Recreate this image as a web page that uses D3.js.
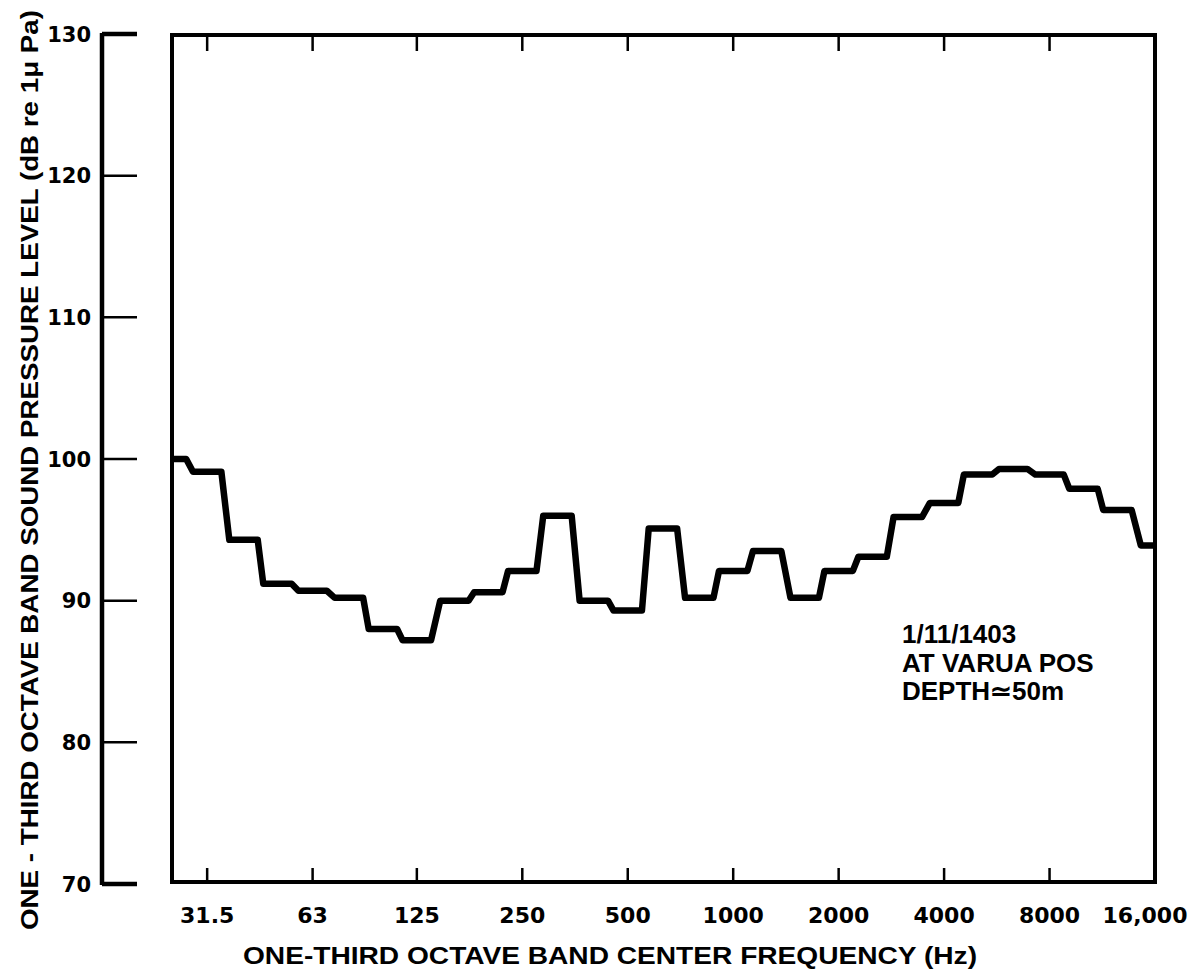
<!DOCTYPE html>
<html>
<head>
<meta charset="utf-8">
<script src="https://cdn.jsdelivr.net/npm/d3@7"></script>
<style>
  html, body { margin: 0; padding: 0; background: #fff; }
  svg { display: block; }
</style>
</head>
<body>
<svg id="chart" width="1195" height="975"></svg>
<script>
// One-third octave band centre frequencies (Hz)
const bands = [25, 31.5, 40, 50, 63, 80, 100, 125, 160, 200, 250, 315, 400, 500, 630, 800,
               1000, 1250, 1600, 2000, 2500, 3150, 4000, 5000, 6300, 8000, 10000, 12500, 16000];
// Band sound pressure level (dB re 1 µPa)
const levels = [100.0, 99.1, 94.3, 91.2, 90.7, 90.2, 88.0, 87.2, 90.0, 90.6, 92.1, 96.0, 90.0, 89.3, 95.1, 90.2,
                92.1, 93.5, 90.2, 92.1, 93.1, 95.9, 96.9, 98.9, 99.3, 98.9, 97.9, 96.4, 93.9];
// Axis ticks
const xTickFreqs = [31.5, 63, 125, 250, 500, 1000, 2000, 4000, 8000, 16000];
const xTickLabels = ["31.5", "63", "125", "250", "500", "1000", "2000", "4000", "8000", "16,000"];
const yTicks = [70, 80, 90, 100, 110, 120, 130];
const noteLines = ["1/11/1403", "AT VARUA POS", "DEPTH\u224350m"];

const svg = d3.select("#chart");
const x = d3.scaleLog().domain([25, 16000]).range([172, 1155]);
const y = d3.scaleLinear().domain([70, 130]).range([884, 34]);

const boxTop = y(130) + 1, boxBottom = y(70) - 2;
const axisX = 102;

// separate left value axis
svg.append("line").attr("x1", axisX).attr("x2", axisX)
  .attr("y1", y(130) - 1).attr("y2", y(70) + 1)
  .attr("stroke", "#000").attr("stroke-width", 4.5);
yTicks.forEach(v => {
  const end = (v === 70 || v === 130);
  svg.append("line").attr("x1", axisX).attr("x2", 137)
    .attr("y1", y(v)).attr("y2", y(v))
    .attr("stroke", "#000").attr("stroke-width", end ? 4.5 : 2.5);
  svg.append("text").attr("x", 91).attr("y", y(v)).attr("dy", "0.36em")
    .attr("text-anchor", "end")
    .attr("font-family", "DejaVu Sans").attr("font-weight", "bold").attr("font-size", 21)
    .text(v);
});

// plot frame
svg.append("rect").attr("x", x(25)).attr("y", boxTop)
  .attr("width", x(16000) - x(25)).attr("height", boxBottom - boxTop)
  .attr("fill", "none").attr("stroke", "#000").attr("stroke-width", 4);

// frequency ticks (bottom pointing up, top pointing down)
xTickFreqs.forEach((f, i) => {
  if (f < 16000) {
    svg.append("line").attr("x1", x(f)).attr("x2", x(f))
      .attr("y1", boxBottom).attr("y2", boxBottom - 14)
      .attr("stroke", "#000").attr("stroke-width", 2.5);
    svg.append("line").attr("x1", x(f)).attr("x2", x(f))
      .attr("y1", boxTop).attr("y2", boxTop + 16)
      .attr("stroke", "#000").attr("stroke-width", 2.5);
  }
  svg.append("text").attr("x", x(f) + (f === 16000 ? -10 : 0)).attr("y", 923)
    .attr("text-anchor", "middle")
    .attr("font-family", "DejaVu Sans").attr("font-weight", "bold").attr("font-size", 22)
    .text(xTickLabels[i]);
});

// staircase curve
const g = 0.032; // octave fraction used by the sloped transitions
const pts = [];
bands.forEach((f, i) => {
  const lo = i === 0 ? f : f * Math.pow(2, -1 / 6 + g);
  const hi = i === bands.length - 1 ? f : f * Math.pow(2, 1 / 6 - g);
  pts.push([lo, levels[i]], [hi, levels[i]]);
});
svg.append("path")
  .attr("d", d3.line().x(d => x(d[0])).y(d => y(d[1]))(pts))
  .attr("fill", "none").attr("stroke", "#000").attr("stroke-width", 6.5)
  .attr("stroke-linejoin", "round").attr("stroke-linecap", "butt");

// annotation
noteLines.forEach((t, i) => {
  svg.append("text").attr("x", 902).attr("y", 643 + i * 28.5)
    .attr("font-family", "Liberation Sans, Arial, sans-serif").attr("font-weight", "bold")
    .attr("font-size", 26).text(t);
});

// axis titles
svg.append("text").attr("x", 243).attr("y", 964)
  .attr("font-family", "Liberation Sans, Arial, sans-serif").attr("font-weight", "bold")
  .attr("font-size", 23).attr("textLength", 734).attr("lengthAdjust", "spacingAndGlyphs")
  .text("ONE-THIRD OCTAVE BAND CENTER FREQUENCY (Hz)");

svg.append("text").attr("transform", "translate(38,930) rotate(-90)")
  .attr("x", 0).attr("y", 0)
  .attr("font-family", "Liberation Sans, Arial, sans-serif").attr("font-weight", "bold")
  .attr("font-size", 24).attr("textLength", 920).attr("lengthAdjust", "spacingAndGlyphs")
  .text("ONE - THIRD OCTAVE BAND SOUND PRESSURE LEVEL (dB re 1\u03bc Pa)");
</script>
</body>
</html>
